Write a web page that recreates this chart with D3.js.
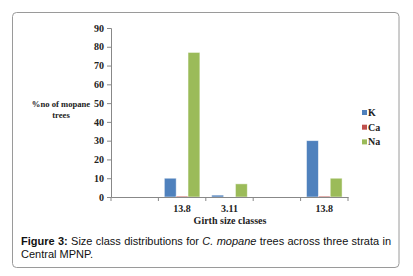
<!DOCTYPE html>
<html><head><meta charset="utf-8">
<script src="https://cdn.jsdelivr.net/npm/d3@7"></script>
<style>body{margin:0;background:#fff}</style>
</head><body>
<svg id="c" width="413" height="276"></svg>
<script>
const categories = ["", "13.8", "3.11", " ", "13.8 "];
const categoryLabels = ["", "13.8", "3.11", "", "13.8"];
const seriesNames = ["K", "Ca", "Na"];
const kValues = [0, 10, 1, 0, 30];
const caValues = [0, 0.5, 0, 0, 0.5];
const naValues = [0, 77, 7, 0, 10];
const yTicks = [0, 10, 20, 30, 40, 50, 60, 70, 80, 90];
const colors = ["#4F81BD", "#C0504D", "#9BBB59"];

const series = [kValues, caValues, naValues];
const svg = d3.select("#c");
const serif = "'Liberation Serif', 'Times New Roman', serif";

svg.append("rect").attr("x", 12.5).attr("y", 12.5).attr("width", 386.5).attr("height", 255)
  .attr("rx", 4).attr("fill", "#fff").attr("stroke", "#9a9a9a").attr("stroke-width", 1);

const x0 = d3.scaleBand().domain(categories).range([111, 348]).paddingInner(0).paddingOuter(0);
const x1 = d3.scaleBand().domain(seriesNames).range([0, x0.bandwidth()]).paddingOuter(0.25 * 1.5 / 0.75).paddingInner(0);
const y = d3.scaleLinear().domain([0, 90]).range([197, 28]);

// bars
categories.forEach((c, i) => {
  series.forEach((vals, s) => {
    const v = vals[i];
    if (v <= 0) return;
    svg.append("rect")
      .attr("x", x0(c) + x1(seriesNames[s]))
      .attr("y", y(v))
      .attr("width", x1.bandwidth())
      .attr("height", y(0) - y(v))
      .attr("fill", colors[s])
      .attr("stroke", "#fff").attr("stroke-opacity", 0.6).attr("stroke-width", 0.8);
  });
});

// y axis
const yAxis = svg.append("g").attr("transform", "translate(111,0)")
  .call(d3.axisLeft(y).tickValues(yTicks).tickSize(4).tickPadding(3));
yAxis.select(".domain").attr("stroke", "#888");
yAxis.selectAll(".tick line").attr("stroke", "#888");
yAxis.selectAll("text").attr("font-family", serif).attr("font-size", 10).attr("font-weight", "bold").attr("fill", "#222");

// x axis
const xAxis = svg.append("g").attr("transform", "translate(0,197)")
  .call(d3.axisBottom(x0).tickSize(0).tickFormat((d, i) => categoryLabels[i]).tickPadding(8));
xAxis.select(".domain").attr("stroke", "#888");
xAxis.selectAll("text").attr("font-family", serif).attr("font-size", 10).attr("font-weight", "bold").attr("fill", "#222");
const bounds = categories.map(c => x0(c)).concat([x0(categories[categories.length - 1]) + x0.bandwidth()]);
svg.append("g").selectAll("line").data(bounds).join("line")
  .attr("x1", d => d).attr("x2", d => d).attr("y1", 197).attr("y2", 201).attr("stroke", "#888");

// axis titles
const yt = svg.append("text").attr("font-family", serif).attr("font-size", 8.6).attr("font-weight", "bold")
  .attr("text-anchor", "middle").attr("fill", "#222");
yt.append("tspan").attr("x", 61).attr("y", 107).text("%no of mopane");
yt.append("tspan").attr("x", 61).attr("y", 118).text("trees");

svg.append("text").attr("x", 230).attr("y", 224).attr("font-family", serif).attr("font-size", 10)
  .attr("font-weight", "bold").attr("text-anchor", "middle").attr("fill", "#222").text("Girth size classes");

// legend
seriesNames.forEach((n, i) => {
  const ly = 113 + i * 14.7;
  svg.append("rect").attr("x", 362).attr("y", ly - 3).attr("width", 5).attr("height", 5).attr("fill", colors[i]);
  svg.append("text").attr("x", 368).attr("y", ly + 3).attr("font-family", serif).attr("font-size", 10)
    .attr("font-weight", "bold").attr("fill", "#222").text(n);
});

// caption
const cap = svg.append("text").attr("font-family", "'Liberation Sans', Arial, sans-serif").attr("font-size", 11).attr("fill", "#111");
const l1 = cap.append("tspan").attr("x", 21).attr("y", 245);
l1.append("tspan").attr("font-weight", "bold").text("Figure 3:");
l1.append("tspan").text(" Size class distributions for ");
l1.append("tspan").attr("font-style", "italic").text("C. mopane");
l1.append("tspan").text(" trees across three strata in");
const l2 = cap.append("tspan").attr("x", 21).attr("y", 258).text("Central MPNP.");
// justify line 1 to right edge 391
const nodes = l1.selectAll("tspan").nodes();
const w = nodes.reduce((a, n) => a + n.getComputedTextLength(), 0);
const fullText = nodes.map(n => n.textContent).join("");
const spaces = (fullText.match(/ /g) || []).length;
const extra = (391 - 21 - w) / spaces;
if (extra > 0) l1.attr("word-spacing", extra);
</script>
</body></html>
